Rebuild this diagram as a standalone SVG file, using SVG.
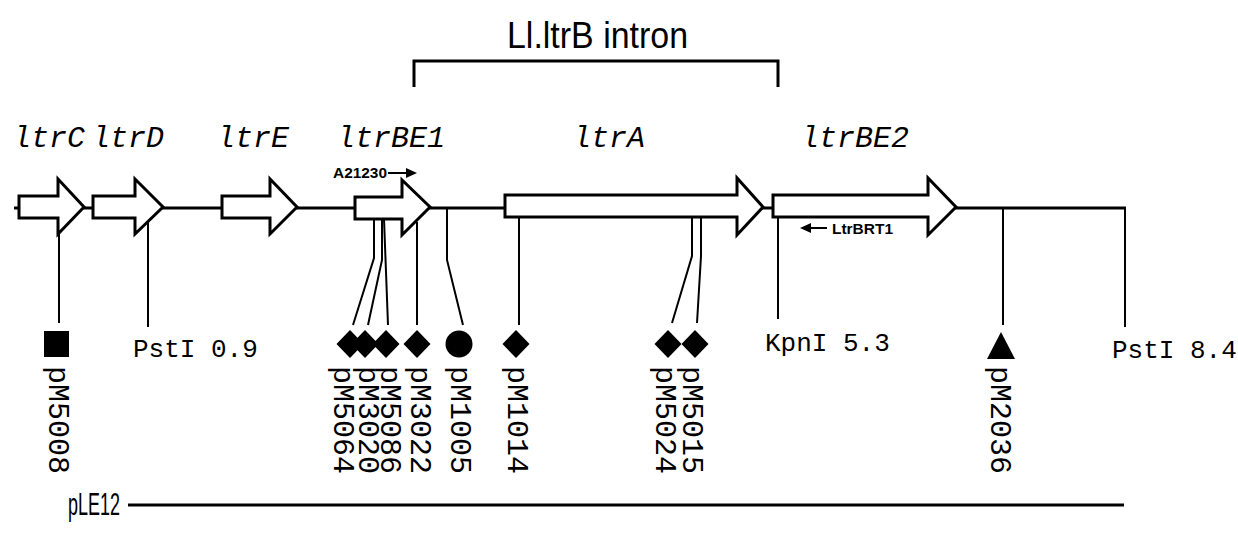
<svg xmlns="http://www.w3.org/2000/svg" width="1238" height="533" viewBox="0 0 1238 533">
<style>
.gene{fill:#fff;stroke:#000;stroke-width:3;stroke-linejoin:miter}
.bb{stroke:#000;stroke-width:3;fill:none}
.ln{stroke:#000;stroke-width:2;fill:none}
.gl{font-family:"Liberation Mono",monospace;font-style:italic;font-size:30px;fill:#000}
.rs{font-family:"Liberation Mono",monospace;font-size:26px;fill:#000}
.vl{font-family:"Liberation Mono",monospace;font-size:30px;fill:#000}
.pr{font-family:"Liberation Sans",Arial,sans-serif;font-weight:bold;font-size:15px;fill:#000}
.sn{font-family:"Liberation Sans",Arial,sans-serif;fill:#000}
.mk{fill:#000}
</style>
<rect width="1238" height="533" fill="#fff"/>
<g id="title">
<text class="sn" x="507" y="48" font-size="36" textLength="181" lengthAdjust="spacingAndGlyphs">Ll.ltrB intron</text>
<polyline class="bb" points="414,87 414,61 778,61 778,87"/>
</g>
<g id="backbone">
<line class="bb" x1="14" y1="208" x2="1126" y2="208"/>
</g>
<g id="connectors">
<line class="ln" x1="59" y1="234" x2="59" y2="323"/>
<line class="ln" x1="148" y1="208" x2="148" y2="327"/>
<polyline class="ln" points="374,219 374,258 353,325"/>
<polyline class="ln" points="382,219 382,260 368,325"/>
<polyline class="ln" points="384,219 388,325"/>
<line class="ln" x1="417" y1="222" x2="417" y2="325"/>
<polyline class="ln" points="447,208 447,260 463,325"/>
<line class="ln" x1="519" y1="217" x2="519" y2="325"/>
<polyline class="ln" points="692,217 692,256 672,323"/>
<polyline class="ln" points="701,217 701,256 697,323"/>
<line class="ln" x1="778" y1="217" x2="778" y2="319"/>
<line class="ln" x1="1003" y1="208" x2="1003" y2="325"/>
<line class="ln" x1="1125" y1="208" x2="1125" y2="327"/>
</g>
<g id="ltrC">
<polygon class="gene" points="19,196 58,196 58,179 84,207 58,234 58,218 19,218"/>
<text class="gl" x="13" y="147">ltrC</text>
</g>
<g id="ltrD">
<polygon class="gene" points="93,196 135,196 135,179 163,207 135,234 135,218 93,218"/>
<text class="gl" x="92" y="147">ltrD</text>
</g>
<g id="ltrE">
<polygon class="gene" points="222,196 270,196 270,179 297,207 270,234 270,218 222,218"/>
<text class="gl" x="217" y="147">ltrE</text>
</g>
<g id="ltrBE1">
<polygon class="gene" points="355,197 402,197 402,180 430,207 402,235 402,219 355,219"/>
<text class="gl" x="337" y="147">ltrBE1</text>
</g>
<g id="ltrA">
<polygon class="gene" points="505,195 737,195 737,178 763,207 737,235 737,217 505,217"/>
<text class="gl" x="573" y="147">ltrA</text>
</g>
<g id="ltrBE2">
<polygon class="gene" points="773,195 928,195 928,178 956,207 928,235 928,217 773,217"/>
<text class="gl" x="801" y="147">ltrBE2</text>
</g>
<g id="primer-A21230">
<text class="pr" x="333" y="178" textLength="54" lengthAdjust="spacingAndGlyphs">A21230</text>
<line class="ln" x1="388" y1="173" x2="408" y2="173"/>
<polygon class="mk" points="406,168 417,173 406,178"/>
</g>
<g id="primer-LtrBRT1">
<polygon class="mk" points="800,228 811,223 811,233"/>
<line class="ln" x1="810" y1="228" x2="827" y2="228"/>
<text class="pr" x="832" y="234" textLength="61" lengthAdjust="spacingAndGlyphs">LtrBRT1</text>
</g>
<g id="PstI-0.9"><text class="rs" x="133" y="357">PstI 0.9</text></g>
<g id="KpnI-5.3"><text class="rs" x="765" y="351">KpnI 5.3</text></g>
<g id="PstI-8.4"><text class="rs" x="1112" y="358">PstI 8.4</text></g>
<g id="pM5008">
<rect class="mk" x="44" y="331" width="25" height="26"/>
<text class="vl" transform="translate(49,366) rotate(90)">pM5008</text>
</g>
<g id="pM5064">
<polygon class="mk" points="350,330 363.5,344 350,358 336.5,344"/>
<text class="vl" transform="translate(334,366) rotate(90)">pM5064</text>
</g>
<g id="pM3020">
<polygon class="mk" points="365,330 378.5,344 365,358 351.5,344"/>
<text class="vl" transform="translate(359,366) rotate(90)">pM3020</text>
</g>
<g id="pM5086">
<polygon class="mk" points="386,330 399.5,344 386,358 372.5,344"/>
<text class="vl" transform="translate(381,366) rotate(90)">pM5086</text>
</g>
<g id="pM3022">
<polygon class="mk" points="417,330 430.5,344 417,358 403.5,344"/>
<text class="vl" transform="translate(411,366) rotate(90)">pM3022</text>
</g>
<g id="pM1005">
<circle class="mk" cx="459" cy="344" r="13.5"/>
<text class="vl" transform="translate(451,366) rotate(90)">pM1005</text>
</g>
<g id="pM1014">
<polygon class="mk" points="516,330 529.5,344 516,358 502.5,344"/>
<text class="vl" transform="translate(508,366) rotate(90)">pM1014</text>
</g>
<g id="pM5024">
<polygon class="mk" points="668,330 681.5,344 668,358 654.5,344"/>
<text class="vl" transform="translate(656,366) rotate(90)">pM5024</text>
</g>
<g id="pM5015">
<polygon class="mk" points="695,330 708.5,344 695,358 681.5,344"/>
<text class="vl" transform="translate(683,366) rotate(90)">pM5015</text>
</g>
<g id="pM2036">
<polygon class="mk" points="1001,332 1015,359 987,359"/>
<text class="vl" transform="translate(991,366) rotate(90)">pM2036</text>
</g>
<g id="pLE12">
<text class="sn" x="68" y="515" font-size="32" textLength="52" lengthAdjust="spacingAndGlyphs">pLE12</text>
<line class="bb" x1="128" y1="505" x2="1124" y2="505"/>
</g>
</svg>
